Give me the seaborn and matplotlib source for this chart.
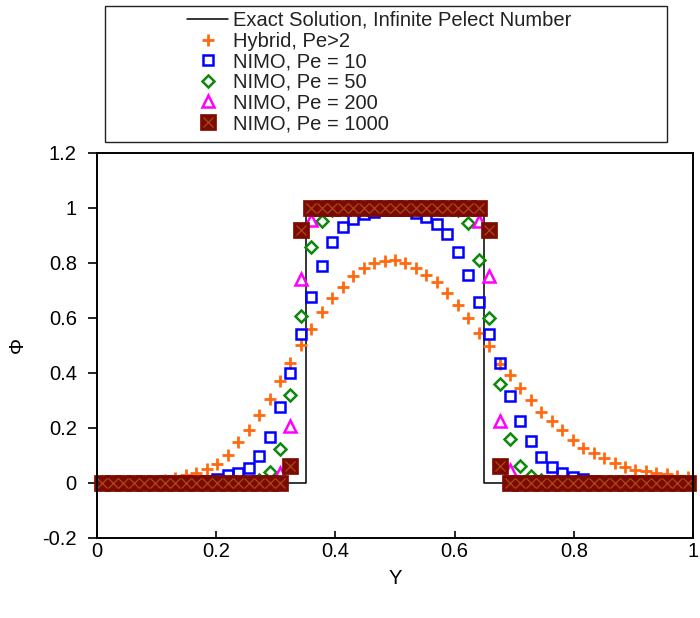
import matplotlib
matplotlib.use("Agg")
import numpy as np
import pandas as pd
import matplotlib.pyplot as plt
import seaborn as sns
from matplotlib.patches import Rectangle
from matplotlib.legend_handler import HandlerTuple

# ---------------- data ----------------
y_grid = [0.00877, 0.02632, 0.04386, 0.06140, 0.07895, 0.09649, 0.11404, 0.13158,
          0.14912, 0.16667, 0.18421, 0.20175, 0.21930, 0.23684, 0.25439, 0.27193,
          0.28947, 0.30702, 0.32456, 0.34211, 0.35965, 0.37719, 0.39474, 0.41228,
          0.42982, 0.44737, 0.46491, 0.48246, 0.50000, 0.51754, 0.53509, 0.55263,
          0.57018, 0.58772, 0.60526, 0.62281, 0.64035, 0.65789, 0.67544, 0.69298,
          0.71053, 0.72807, 0.74561, 0.76316, 0.78070, 0.79825, 0.81579, 0.83333,
          0.85088, 0.86842, 0.88596, 0.90351, 0.92105, 0.93860, 0.95614, 0.97368,
          0.99123]

exact_y = [0.0, 0.35, 0.35, 0.65, 0.65, 1.0]
exact_phi = [0.0, 0.0, 1.0, 1.0, 0.0, 0.0]

hybrid = [0.0, 0.0, 0.0, 0.001, 0.002, 0.004, 0.008, 0.015, 0.026, 0.035,
          0.048, 0.068, 0.10, 0.146, 0.19, 0.246, 0.303, 0.37, 0.436, 0.50,
          0.56, 0.62, 0.67, 0.71, 0.75, 0.78, 0.80, 0.805, 0.81, 0.80,
          0.78, 0.755, 0.73, 0.69, 0.645, 0.60, 0.545, 0.495, 0.43, 0.39,
          0.343, 0.30, 0.258, 0.222, 0.19, 0.156, 0.126, 0.108, 0.09, 0.071,
          0.057, 0.047, 0.041, 0.035, 0.03, 0.025, 0.02]

nimo_pe10 = [0.0, 0.0, 0.0, 0.0, 0.0, 0.0, 0.0, 0.0, 0.0, 0.0,
             0.004, 0.012, 0.026, 0.035, 0.053, 0.095, 0.166, 0.273, 0.40, 0.54,
             0.673, 0.787, 0.874, 0.93, 0.96, 0.975, 0.985, 0.99, 0.99, 0.99,
             0.98, 0.965, 0.94, 0.905, 0.84, 0.754, 0.657, 0.54, 0.434, 0.315,
             0.222, 0.15, 0.092, 0.057, 0.035, 0.02, 0.012, 0.006, 0.002, 0.0,
             0.0, 0.0, 0.0, 0.0, 0.0, 0.0, 0.0]

nimo_pe50 = [0.0, 0.0, 0.0, 0.0, 0.0, 0.0, 0.0, 0.0, 0.0, 0.0,
             0.0, 0.0, 0.0, 0.0, 0.0, 0.008, 0.04, 0.122, 0.32, 0.605,
             0.855, 0.95, 0.99, 1.0, 1.0, 1.0, 1.0, 1.0, 1.0, 1.0,
             1.0, 1.0, 1.0, 1.0, 0.99, 0.945, 0.81, 0.60, 0.36, 0.16,
             0.06, 0.025, 0.008, 0.0, 0.0, 0.0, 0.0, 0.0, 0.0, 0.0,
             0.0, 0.0, 0.0, 0.0, 0.0, 0.0, 0.0]

nimo_pe200 = [0.0, 0.0, 0.0, 0.0, 0.0, 0.0, 0.0, 0.0, 0.0, 0.0,
              0.0, 0.0, 0.0, 0.0, 0.0, 0.0, 0.0, 0.035, 0.206, 0.74,
              0.955, 1.0, 1.0, 1.0, 1.0, 1.0, 1.0, 1.0, 1.0, 1.0,
              1.0, 1.0, 1.0, 1.0, 1.0, 1.0, 0.95, 0.75, 0.222, 0.045,
              0.0, 0.0, 0.0, 0.0, 0.0, 0.0, 0.0, 0.0, 0.0, 0.0,
              0.0, 0.0, 0.0, 0.0, 0.0, 0.0, 0.0]

nimo_pe1000 = [0.0, 0.0, 0.0, 0.0, 0.0, 0.0, 0.0, 0.0, 0.0, 0.0,
               0.0, 0.0, 0.0, 0.0, 0.0, 0.0, 0.0, 0.0, 0.06, 0.92,
               1.0, 1.0, 1.0, 1.0, 1.0, 1.0, 1.0, 1.0, 1.0, 1.0,
               1.0, 1.0, 1.0, 1.0, 1.0, 1.0, 1.0, 0.92, 0.06, 0.0,
               0.0, 0.0, 0.0, 0.0, 0.0, 0.0, 0.0, 0.0, 0.0, 0.0,
               0.0, 0.0, 0.0, 0.0, 0.0, 0.0, 0.0]

series_labels = ["Exact Solution, Infinite Pelect Number", "Hybrid, Pe>2",
                 "NIMO, Pe = 10", "NIMO, Pe = 50", "NIMO, Pe = 200",
                 "NIMO, Pe = 1000"]

x_ticks = [0, 0.2, 0.4, 0.6, 0.8, 1.0]
x_ticklabels = ["0", "0.2", "0.4", "0.6", "0.8", "1"]
y_ticks = [-0.2, 0, 0.2, 0.4, 0.6, 0.8, 1.0, 1.2]
y_ticklabels = ["-0.2", "0", "0.2", "0.4", "0.6", "0.8", "1", "1.2"]

# ---------------- style ----------------
sns.set_theme(style="white")
plt.rcParams["font.family"] = ["Liberation Sans", "DejaVu Sans"]

ORANGE = "#FF6A10"
BLUE = "#0000FF"
GREEN = "#0A8A0A"
MAGENTA = "#FF00FF"
BROWN = "#7D0A00"
XCOL = "#A8481C"
FS = 14.5

fig = plt.figure(figsize=(7.0, 6.18), dpi=100)
ax = fig.add_axes([97 / 700, 1 - 537.5 / 618, 596 / 700, 385 / 618])

df = pd.DataFrame({"Y": y_grid, "hybrid": hybrid, "pe10": nimo_pe10,
                   "pe50": nimo_pe50, "pe200": nimo_pe200,
                   "pe1000": nimo_pe1000})

sns.lineplot(x=exact_y, y=exact_phi, sort=False, estimator=None, ax=ax,
             color="black", linewidth=1.1, label=series_labels[0])
h_exact = ax.lines[-1]

common = dict(ax=ax, linestyle="none", clip_on=False, estimator=None)

sns.lineplot(data=df, x="Y", y="hybrid", marker="+", markersize=9.0,
             markeredgewidth=2.0, markeredgecolor=ORANGE, color=ORANGE,
             label=series_labels[1], **common)
h_hyb = ax.lines[-1]

sns.lineplot(data=df, x="Y", y="pe10", marker="s", markersize=6.8,
             markeredgewidth=1.8, markeredgecolor=BLUE, markerfacecolor="none",
             color=BLUE, label=series_labels[2], **common)
h10 = ax.lines[-1]

sns.lineplot(data=df, x="Y", y="pe50", marker="D", markersize=5.8,
             markeredgewidth=1.8, markeredgecolor=GREEN, markerfacecolor="none",
             color=GREEN, label=series_labels[3], **common)
h50 = ax.lines[-1]

sns.lineplot(data=df, x="Y", y="pe200", marker="^", markersize=8.0,
             markeredgewidth=1.8, markeredgecolor=MAGENTA, markerfacecolor="none",
             color=MAGENTA, label=series_labels[4], **common)
h200 = ax.lines[-1]

sns.lineplot(data=df, x="Y", y="pe1000", marker="s", markersize=11.4,
             markeredgewidth=0.5, markeredgecolor=BROWN, markerfacecolor=BROWN,
             color=BROWN, label=series_labels[5], **common)
h1000 = ax.lines[-1]
sns.lineplot(data=df, x="Y", y="pe1000", marker="x", markersize=7.5,
             markeredgewidth=0.9, markeredgecolor=XCOL, color=XCOL,
             label="_nolegend_", **common)
h1000x = ax.lines[-1]

if ax.get_legend() is not None:
    ax.get_legend().remove()

# ---------------- axes ----------------
ax.set_xlim(0, 1)
ax.set_ylim(-0.2, 1.2)
ax.set_xticks(x_ticks)
ax.set_xticklabels(x_ticklabels)
ax.set_yticks(y_ticks)
ax.set_yticklabels(y_ticklabels)
for sp in ax.spines.values():
    sp.set_visible(True)
    sp.set_color("black")
    sp.set_linewidth(1.4)
ax.tick_params(axis="y", which="both", left=True, direction="out", length=6.5,
               width=1.2, pad=8, labelsize=FS, colors="black")
ax.tick_params(axis="x", which="both", bottom=True, direction="in", length=5,
               width=1.2, pad=3, labelsize=FS, colors="black")
ax.set_xlabel("Y", fontsize=FS, labelpad=6, color="black")
ax.set_ylabel("Φ", fontsize=FS, labelpad=11, color="black")
ax.grid(False)

# ---------------- legend ----------------
handles = [h_exact, h_hyb, h10, h50, h200, (h1000, h1000x)]
leg = fig.legend(handles, series_labels, loc="upper left",
                 bbox_to_anchor=(187 / 700, 1 - 11 / 618),
                 bbox_transform=fig.transFigure, frameon=False, fontsize=FS,
                 borderpad=0, borderaxespad=0, handlelength=2.05,
                 handletextpad=0.25, labelspacing=0.08, numpoints=1,
                 handler_map={tuple: HandlerTuple(ndivide=1)})
for t in leg.get_texts():
    t.set_color("#222222")

fig.patches.append(Rectangle((105 / 700, 1 - 142 / 618), 562 / 700, 136 / 618,
                             transform=fig.transFigure, fill=False,
                             edgecolor="#222222", linewidth=1.0))

fig.savefig("out.png", dpi=100)
